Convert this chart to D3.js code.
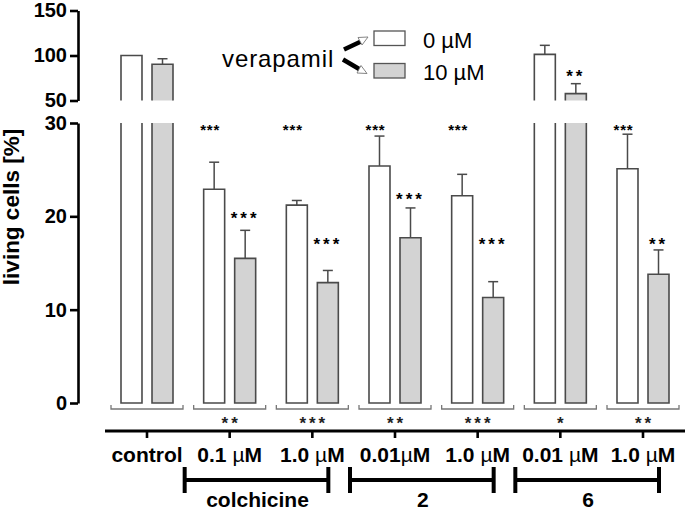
<!DOCTYPE html>
<html><head><meta charset="utf-8">
<script src="https://cdn.jsdelivr.net/npm/d3@7"></script>
<style>
body{margin:0;background:#fff;}
text{font-family:"Liberation Sans",Arial,Helvetica,sans-serif;}
</style></head>
<body><svg id="c" width="685" height="511"></svg>
<script>
// ---- data ----
const categories = ["control","0.1 µM","1.0 µM","0.01µM","1.0 µM","0.01 µM","1.0 µM"];
const series = ["0 µM","10 µM"];
const vera0 = [100, 22.9, 21.2, 25.4, 22.2, 101.3, 25.1];
const vera0Err = [0, 2.9, 0.5, 3.2, 2.3, 10, 3.7];
const vera10 = [90.2, 15.5, 12.9, 17.7, 11.3, 57.6, 13.8];
const vera10Err = [6.2, 3.0, 1.3, 3.2, 1.7, 11.1, 2.6];
const stars0 = ["", "***", "***", "***", "***", "", "***"];
const stars0Y = [null, 29.6, 29.6, 29.6, 29.6, null, 29.6];
const stars10 = ["", "***", "***", "***", "***", "**", "**"];
const stars10Y = [null, 20.25, 17.4, 22.2, 17.4, 80.9, 17.4];
const starsBottom = ["", "**", "***", "**", "***", "*", "**"];
const lowTicks = [0, 10, 20, 30];
const upTicks = [50, 100, 150];
const groups = [
  {name: "colchicine", from: 1, to: 2},
  {name: "2", from: 3, to: 4},
  {name: "6", from: 5, to: 6}
];

// ---- layout ----
const svg = d3.select("#c");
const axisX = 78;
const yLow = d3.scaleLinear().domain([0, 30]).range([403, 123]);
const yUp = d3.scaleLinear().domain([50, 150]).range([100.5, 10.5]);
const x = d3.scalePoint().domain(d3.range(categories.length)).range([147, 643]);
const xs = d3.scaleBand().domain([0, 1]).range([-26, 26]).paddingInner(0.323).paddingOuter(0);
const bw = xs.bandwidth();
const fills = ["#ffffff", "#d3d3d3"];
const vals = [vera0, vera10], errs = [vera0Err, vera10Err];
const edge = "#4a4a4a";

// axes
function styleAxis(g){
  g.select(".domain").attr("stroke", "#000").attr("stroke-width", 2.6);
  g.selectAll(".tick line").attr("stroke", "#000").attr("stroke-width", 2.6);
  g.selectAll(".tick text").attr("font-size", 20).attr("font-weight", "bold")
    .attr("fill", "#000").attr("font-family", '"Liberation Sans",Arial,sans-serif');
}
svg.append("g").attr("transform", `translate(${axisX},0)`)
  .call(d3.axisLeft(yLow).tickValues(lowTicks).tickSize(8).tickSizeOuter(0).tickPadding(3))
  .call(styleAxis);
svg.append("g").attr("transform", `translate(${axisX},0)`)
  .call(d3.axisLeft(yUp).tickValues(upTicks).tickSize(8).tickSizeOuter(0).tickPadding(3))
  .call(styleAxis);

svg.append("text").attr("transform", "translate(19,207) rotate(-90)")
  .attr("text-anchor", "middle").attr("font-size", 22.5).attr("font-weight", "bold")
  .text("living cells [%]");

// bars
categories.forEach((c, i) => {
  [0, 1].forEach(s => {
    const v = vals[s][i], e = errs[s][i];
    const x0 = x(i) + xs(s), x1 = x0 + bw, xc = x0 + bw / 2;
    const clipped = v > 30;
    const topL = yLow(Math.min(v, 30)), botL = yLow(0);
    svg.append("rect").attr("x", x0).attr("y", topL).attr("width", bw).attr("height", botL - topL)
      .attr("fill", fills[s]);
    const p = d3.path();
    if (clipped) {
      p.moveTo(x0, topL); p.lineTo(x0, botL); p.lineTo(x1, botL); p.lineTo(x1, topL);
    } else {
      p.moveTo(x0, botL); p.lineTo(x0, topL); p.lineTo(x1, topL); p.lineTo(x1, botL); p.closePath();
    }
    svg.append("path").attr("d", p.toString()).attr("fill", "none").attr("stroke", edge).attr("stroke-width", 1.6);
    let yy = yLow;
    if (v > 50) {
      const t = yUp(v), b = yUp(50);
      svg.append("rect").attr("x", x0).attr("y", t).attr("width", bw).attr("height", b - t).attr("fill", fills[s]);
      const q = d3.path();
      q.moveTo(x0, b); q.lineTo(x0, t); q.lineTo(x1, t); q.lineTo(x1, b);
      svg.append("path").attr("d", q.toString()).attr("fill", "none").attr("stroke", edge).attr("stroke-width", 1.6);
      yy = yUp;
    }
    if (e > 0) {
      const yt = yy(v + e), yb = yy(v);
      svg.append("line").attr("x1", xc).attr("x2", xc).attr("y1", yb).attr("y2", yt)
        .attr("stroke", edge).attr("stroke-width", 1.5);
      svg.append("line").attr("x1", xc - 5).attr("x2", xc + 5).attr("y1", yt).attr("y2", yt)
        .attr("stroke", edge).attr("stroke-width", 1.5);
    }
  });
});

// significance stars
function starY(v, fs){ const py = v > 40 ? yUp(v) : yLow(v); return py + 0.57 * fs; }
categories.forEach((c, i) => {
  if (stars0[i]) {
    svg.append("text").attr("x", x(i) + xs(0) + bw / 2 - 4).attr("y", starY(stars0Y[i], 15))
      .attr("text-anchor", "middle").attr("font-size", 15).attr("font-weight", "bold")
      .attr("letter-spacing", 0.8).text(stars0[i]);
  }
  if (stars10[i]) {
    svg.append("text").attr("x", x(i) + xs(1) + bw / 2).attr("y", starY(stars10Y[i], 17))
      .attr("text-anchor", "middle").attr("font-size", 17).attr("font-weight", "bold")
      .attr("letter-spacing", 3).text(stars10[i]);
  }
});

// per-group brackets under bars
categories.forEach((c, i) => {
  const l = x(i) - 36, r = x(i) + 36, yb = 409;
  svg.append("path").attr("d", `M${l},405 L${l},${yb} L${r},${yb} L${r},405`)
    .attr("fill", "none").attr("stroke", "#777").attr("stroke-width", 1.3);
  if (starsBottom[i]) {
    svg.append("text").attr("x", x(i) + 1.5).attr("y", 419 + 0.57 * 17)
      .attr("text-anchor", "middle").attr("font-size", 17).attr("font-weight", "bold")
      .attr("letter-spacing", 3).attr("fill", "#222").text(starsBottom[i]);
  }
});

// main category axis
svg.append("line").attr("x1", 105).attr("x2", 685).attr("y1", 431).attr("y2", 431)
  .attr("stroke", "#000").attr("stroke-width", 3);
categories.forEach((c, i) => {
  svg.append("line").attr("x1", x(i)).attr("x2", x(i)).attr("y1", 431).attr("y2", 438)
    .attr("stroke", "#000").attr("stroke-width", 2.6);
  const t = svg.append("text").attr("x", x(i)).attr("y", 461.5).attr("text-anchor", "middle")
    .attr("font-size", 21).attr("font-weight", "bold");
  const parts = c.split("µ");
  t.append("tspan").text(parts[0]);
  if (parts.length > 1) {
    t.append("tspan").attr("font-weight", "normal").text("µ");
    t.append("tspan").text(parts[1]);
  }
});

// compound brackets
groups.forEach(g => {
  const l = x(g.from) - 45, r = x(g.to) + 16;
  const yb = 480;
  svg.append("line").attr("x1", l).attr("x2", r).attr("y1", yb).attr("y2", yb)
    .attr("stroke", "#000").attr("stroke-width", 4);
  [l, r].forEach(xx => svg.append("line").attr("x1", xx).attr("x2", xx).attr("y1", 467).attr("y2", 493)
    .attr("stroke", "#000").attr("stroke-width", 4));
  svg.append("text").attr("x", (l + r) / 2 + 1).attr("y", 507).attr("text-anchor", "middle")
    .attr("font-size", 21).attr("font-weight", "bold").text(g.name);
});

// legend
svg.append("text").attr("x", 222).attr("y", 67).attr("font-size", 24).attr("letter-spacing", 0.9)
  .text("verapamil");
svg.append("line").attr("x1", 344).attr("y1", 49.5).attr("x2", 361).attr("y2", 41.5)
  .attr("stroke", "#000").attr("stroke-width", 4.5);
svg.append("line").attr("x1", 343).attr("y1", 59.5).attr("x2", 360).attr("y2", 69.5)
  .attr("stroke", "#000").attr("stroke-width", 4.5);
svg.append("path").attr("d", "M358,37.5 L368,37 L362,45 Z").attr("fill", "#fff").attr("stroke", "#777").attr("stroke-width", 0.9);
svg.append("path").attr("d", "M357,73 L367,73.5 L361,65.5 Z").attr("fill", "#fff").attr("stroke", "#777").attr("stroke-width", 0.9);
series.forEach((s, k) => {
  const yTop = [31, 63.5][k];
  svg.append("rect").attr("x", 374).attr("y", yTop).attr("width", 31).attr("height", 14.5)
    .attr("fill", fills[k]).attr("stroke", "#555").attr("stroke-width", 1.3);
  svg.append("text").attr("x", 423).attr("y", yTop + 16.5).attr("font-size", 22).text(s);
});
</script></body></html>
